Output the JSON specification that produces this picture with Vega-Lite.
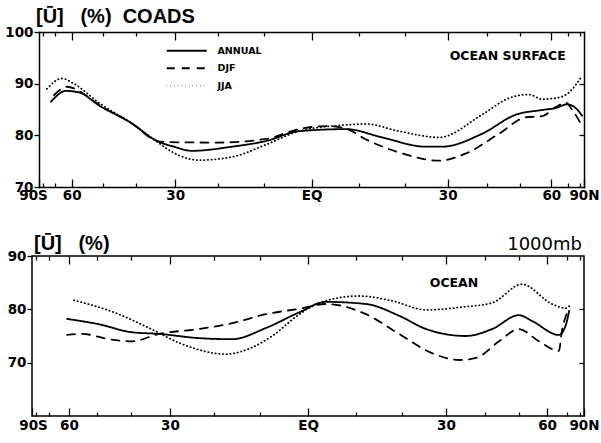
{
  "$schema": "https://vega.github.io/schema/vega-lite/v6.json",
  "padding": {"left": 4, "top": 7, "right": 0, "bottom": 4},
  "background": "white",
  "datasets": {
    "top": [
      {"season": "ANNUAL", "mu": -0.956, "u": 86.5},
      {"season": "ANNUAL", "mu": -0.901, "u": 88.6},
      {"season": "ANNUAL", "mu": -0.853, "u": 88.3},
      {"season": "ANNUAL", "mu": -0.78, "u": 85.8},
      {"season": "ANNUAL", "mu": -0.659, "u": 82.3},
      {"season": "ANNUAL", "mu": -0.571, "u": 79.0},
      {"season": "ANNUAL", "mu": -0.505, "u": 77.8},
      {"season": "ANNUAL", "mu": -0.439, "u": 77.0},
      {"season": "ANNUAL", "mu": -0.292, "u": 77.8},
      {"season": "ANNUAL", "mu": -0.167, "u": 78.9},
      {"season": "ANNUAL", "mu": -0.046, "u": 80.8},
      {"season": "ANNUAL", "mu": 0.127, "u": 81.2},
      {"season": "ANNUAL", "mu": 0.259, "u": 79.6},
      {"season": "ANNUAL", "mu": 0.42, "u": 77.8},
      {"season": "ANNUAL", "mu": 0.479, "u": 77.8},
      {"season": "ANNUAL", "mu": 0.626, "u": 80.3},
      {"season": "ANNUAL", "mu": 0.75, "u": 84.0},
      {"season": "ANNUAL", "mu": 0.846, "u": 84.9},
      {"season": "ANNUAL", "mu": 0.897, "u": 85.3},
      {"season": "ANNUAL", "mu": 0.938, "u": 86.0},
      {"season": "ANNUAL", "mu": 0.971, "u": 85.2},
      {"season": "ANNUAL", "mu": 0.993, "u": 83.8},
      {"season": "DJF", "mu": -0.945, "u": 87.8},
      {"season": "DJF", "mu": -0.897, "u": 89.4},
      {"season": "DJF", "mu": -0.835, "u": 88.0},
      {"season": "DJF", "mu": -0.78, "u": 85.9},
      {"season": "DJF", "mu": -0.659, "u": 82.3},
      {"season": "DJF", "mu": -0.571, "u": 79.0},
      {"season": "DJF", "mu": -0.534, "u": 78.7},
      {"season": "DJF", "mu": -0.35, "u": 78.6},
      {"season": "DJF", "mu": -0.167, "u": 79.3},
      {"season": "DJF", "mu": -0.046, "u": 81.2},
      {"season": "DJF", "mu": 0.053, "u": 81.8},
      {"season": "DJF", "mu": 0.127, "u": 81.3},
      {"season": "DJF", "mu": 0.2, "u": 79.2},
      {"season": "DJF", "mu": 0.321, "u": 76.7},
      {"season": "DJF", "mu": 0.468, "u": 75.1},
      {"season": "DJF", "mu": 0.567, "u": 76.5},
      {"season": "DJF", "mu": 0.688, "u": 80.3},
      {"season": "DJF", "mu": 0.787, "u": 83.5},
      {"season": "DJF", "mu": 0.846, "u": 83.7},
      {"season": "DJF", "mu": 0.897, "u": 85.5},
      {"season": "DJF", "mu": 0.934, "u": 86.3},
      {"season": "DJF", "mu": 0.956, "u": 85.0},
      {"season": "DJF", "mu": 0.993, "u": 81.8},
      {"season": "JJA", "mu": -0.971, "u": 89.0},
      {"season": "JJA", "mu": -0.916, "u": 91.0},
      {"season": "JJA", "mu": -0.872, "u": 90.0},
      {"season": "JJA", "mu": -0.78, "u": 86.3},
      {"season": "JJA", "mu": -0.659, "u": 82.3},
      {"season": "JJA", "mu": -0.56, "u": 78.5},
      {"season": "JJA", "mu": -0.512, "u": 76.8},
      {"season": "JJA", "mu": -0.413, "u": 75.2},
      {"season": "JJA", "mu": -0.292, "u": 75.8},
      {"season": "JJA", "mu": -0.167, "u": 78.2},
      {"season": "JJA", "mu": -0.046, "u": 80.8},
      {"season": "JJA", "mu": 0.127, "u": 82.0},
      {"season": "JJA", "mu": 0.2, "u": 82.2},
      {"season": "JJA", "mu": 0.321, "u": 80.8},
      {"season": "JJA", "mu": 0.468, "u": 79.6},
      {"season": "JJA", "mu": 0.626, "u": 84.0},
      {"season": "JJA", "mu": 0.725, "u": 87.2},
      {"season": "JJA", "mu": 0.798, "u": 87.9},
      {"season": "JJA", "mu": 0.846, "u": 87.0},
      {"season": "JJA", "mu": 0.897, "u": 87.2},
      {"season": "JJA", "mu": 0.945, "u": 88.3},
      {"season": "JJA", "mu": 0.993, "u": 91.5}
    ],
    "bottom": [
      {"season": "ANNUAL", "mu": -0.873, "u": 78.2},
      {"season": "ANNUAL", "mu": -0.757, "u": 77.2},
      {"season": "ANNUAL", "mu": -0.638, "u": 75.7},
      {"season": "ANNUAL", "mu": -0.54, "u": 75.4},
      {"season": "ANNUAL", "mu": -0.395, "u": 74.6},
      {"season": "ANNUAL", "mu": -0.275, "u": 74.4},
      {"season": "ANNUAL", "mu": -0.152, "u": 76.5},
      {"season": "ANNUAL", "mu": -0.033, "u": 79.4},
      {"season": "ANNUAL", "mu": 0.065, "u": 81.4},
      {"season": "ANNUAL", "mu": 0.21, "u": 81.0},
      {"season": "ANNUAL", "mu": 0.33, "u": 78.8},
      {"season": "ANNUAL", "mu": 0.428, "u": 76.3},
      {"season": "ANNUAL", "mu": 0.572, "u": 75.0},
      {"season": "ANNUAL", "mu": 0.667, "u": 76.3},
      {"season": "ANNUAL", "mu": 0.764, "u": 78.9},
      {"season": "ANNUAL", "mu": 0.812, "u": 77.8},
      {"season": "ANNUAL", "mu": 0.909, "u": 75.2},
      {"season": "ANNUAL", "mu": 0.935, "u": 77.2},
      {"season": "ANNUAL", "mu": 0.946, "u": 79.7},
      {"season": "DJF", "mu": -0.873, "u": 75.2},
      {"season": "DJF", "mu": -0.819, "u": 75.4},
      {"season": "DJF", "mu": -0.721, "u": 74.4},
      {"season": "DJF", "mu": -0.638, "u": 74.0},
      {"season": "DJF", "mu": -0.54, "u": 75.4},
      {"season": "DJF", "mu": -0.395, "u": 76.3},
      {"season": "DJF", "mu": -0.275, "u": 77.4},
      {"season": "DJF", "mu": -0.152, "u": 79.1},
      {"season": "DJF", "mu": -0.033, "u": 80.1},
      {"season": "DJF", "mu": 0.065, "u": 81.0},
      {"season": "DJF", "mu": 0.21, "u": 79.1},
      {"season": "DJF", "mu": 0.33, "u": 75.4},
      {"season": "DJF", "mu": 0.449, "u": 71.8},
      {"season": "DJF", "mu": 0.547, "u": 70.5},
      {"season": "DJF", "mu": 0.609, "u": 70.9},
      {"season": "DJF", "mu": 0.692, "u": 74.0},
      {"season": "DJF", "mu": 0.764, "u": 76.3},
      {"season": "DJF", "mu": 0.837, "u": 74.0},
      {"season": "DJF", "mu": 0.909, "u": 72.2},
      {"season": "DJF", "mu": 0.92, "u": 75.9},
      {"season": "DJF", "mu": 0.938, "u": 79.3},
      {"season": "JJA", "mu": -0.848, "u": 81.7},
      {"season": "JJA", "mu": -0.696, "u": 79.3},
      {"season": "JJA", "mu": -0.576, "u": 76.5},
      {"season": "JJA", "mu": -0.457, "u": 73.5},
      {"season": "JJA", "mu": -0.297, "u": 71.6},
      {"season": "JJA", "mu": -0.214, "u": 72.6},
      {"season": "JJA", "mu": -0.13, "u": 75.0},
      {"season": "JJA", "mu": -0.033, "u": 79.0},
      {"season": "JJA", "mu": 0.04, "u": 81.2},
      {"season": "JJA", "mu": 0.185, "u": 82.5},
      {"season": "JJA", "mu": 0.304, "u": 81.6},
      {"season": "JJA", "mu": 0.428, "u": 79.9},
      {"season": "JJA", "mu": 0.572, "u": 80.5},
      {"season": "JJA", "mu": 0.667, "u": 81.2},
      {"season": "JJA", "mu": 0.775, "u": 84.7},
      {"season": "JJA", "mu": 0.884, "u": 81.0},
      {"season": "JJA", "mu": 0.935, "u": 80.2},
      {"season": "JJA", "mu": 0.946, "u": 80.6}
    ]
  },
  "config": {
    "view": {"stroke": "black", "strokeWidth": 1.5},
    "axis": {
      "domain": false, "grid": false,
      "labelFont": "DejaVu Sans", "labelFontWeight": "bold", "labelFontSize": 13.5, "labelColor": "black",
      "tickColor": "black", "tickWidth": 1.3, "title": null,
      "domainColor": "black", "domainWidth": 1.5, "domainCap": "square"
    },
    "title": {"font": "Liberation Sans", "fontWeight": "bold", "color": "black", "anchor": "start"},
    "text": {"font": "Liberation Sans", "color": "black"}
  },
  "columns": 1,
  "spacing": 27,
  "resolve": {"scale": {"strokeDash": "independent", "strokeWidth": "independent"}, "legend": {"strokeDash": "independent"}},
  "concat": [
    {
      "width": 552, "height": 155,
      "view": {"stroke": null},
      "title": {"text": "[Ū]\u00a0\u00a0\u00a0(%)\u00a0\u00a0COADS", "fontSize": 20, "offset": -2, "dx": 4, "frame": "group"},
      "layer": [
        {
          "data": {"name": "top"},
          "mark": {"type": "line", "interpolate": "monotone", "color": "black", "strokeCap": "round"},
          "encoding": {
            "x": {"field": "mu", "type": "quantitative",
              "scale": {"domain": [-1, 1], "nice": false, "zero": false, "range": [7, 552]},
              "axis": {"orient": "bottom", "domain": true,
                "values": [-1, -0.985, -0.94, -0.88, -0.766, -0.643, -0.5, -0.342, -0.174, 0, 0.174, 0.342, 0.5, 0.643, 0.766, 0.88, 0.94, 0.985, 1],
                "labelExpr": "datum.value == -1 ? '90S' : datum.value == -0.88 ? '60' : datum.value == -0.5 ? '30' : datum.value == 0 ? 'EQ' : datum.value == 0.5 ? '30' : datum.value == 0.88 ? '60' : datum.value == 1 ? '90N' : ''",
                "tickSize": {"condition": {"test": "abs(datum.value) == 0.5 || abs(datum.value) == 0.88 || abs(datum.value) == 1 || datum.value == 0", "value": -8}, "value": -4},
                "labelPadding": 9,
                "labelOffset": {"condition": {"test": "datum.value == -1", "value": -6}, "value": 0},
                "labelFlush": false, "labelOverlap": false, "labelBound": false}},
            "y": {"field": "u", "type": "quantitative",
              "scale": {"domain": [70, 100], "nice": false, "zero": false},
              "axis": {"orient": "left", "domain": true, "offset": -7, "values": [70, 80, 90, 100], "tickSize": 5, "labelPadding": 1, "labelFlush": false}},
            "strokeDash": {"field": "season", "type": "nominal",
              "scale": {"domain": ["ANNUAL", "DJF", "JJA"], "range": [[1, 0], [8, 7], [0.3, 3.4]]},
              "legend": {"orient": "none", "legendX": 150, "legendY": 14, "title": null,
                "symbolType": "M-20,0L20,0", "symbolSize": 4, "symbolStrokeColor": "black", "symbolStrokeWidth": 1.9,
                "labelFont": "DejaVu Sans", "labelFontWeight": "bold", "labelFontSize": 9.5, "labelColor": "black",
                "rowPadding": 6.5, "labelOffset": 26}},
            "strokeWidth": {"field": "season", "type": "ordinal",
              "scale": {"domain": ["ANNUAL", "DJF", "JJA"], "range": [1.8, 1.8, 2.4]}, "legend": null}
          }
        },
        {
          "data": {"values": [{"mu": 0.72, "u": 95.4, "label": "OCEAN SURFACE"}]},
          "mark": {"type": "text", "font": "DejaVu Sans", "fontSize": 12.5, "fontWeight": "bold", "align": "center", "baseline": "middle"},
          "encoding": {
            "x": {"field": "mu", "type": "quantitative",
              "axis": {"orient": "top", "labels": false, "domain": true,
                "values": [-0.985, -0.94, -0.88, -0.766, -0.643, -0.5, -0.342, -0.174, 0, 0.174, 0.342, 0.5, 0.643, 0.766, 0.88, 0.94, 0.985],
                "tickSize": {"condition": {"test": "abs(datum.value) == 0.5 || abs(datum.value) == 0.88 || datum.value == 0", "value": -8}, "value": -4}}},
            "y": {"field": "u", "type": "quantitative",
              "axis": {"orient": "right", "labels": false, "domain": true, "values": [80, 90], "tickSize": -5}},
            "text": {"field": "label"}
          }
        }
      ],
      "resolve": {"axis": {"x": "independent", "y": "independent"}}
    },
    {
      "width": 552, "height": 160,
      "layer": [
        {
          "data": {"name": "bottom"},
          "mark": {"type": "line", "interpolate": "monotone", "color": "black", "strokeCap": "round"},
          "encoding": {
            "x": {"field": "mu", "type": "quantitative",
              "scale": {"domain": [-1, 1], "nice": false, "zero": false},
              "axis": {"orient": "bottom",
                "values": [-1, -0.985, -0.94, -0.866, -0.766, -0.643, -0.5, -0.342, -0.174, 0, 0.174, 0.342, 0.5, 0.643, 0.766, 0.866, 0.94, 0.985, 1],
                "labelExpr": "datum.value == -1 ? '90S' : datum.value == -0.866 ? '60' : datum.value == -0.5 ? '30' : datum.value == 0 ? 'EQ' : datum.value == 0.5 ? '30' : datum.value == 0.866 ? '60' : datum.value == 1 ? '90N' : ''",
                "tickSize": {"condition": {"test": "abs(datum.value) == 0.5 || abs(datum.value) == 0.866 || abs(datum.value) == 1 || datum.value == 0", "value": -8}, "value": -4},
                "labelPadding": 10,
                "labelOffset": {"condition": {"test": "datum.value == -1", "value": 1}, "value": 0},
                "labelFlush": false, "labelOverlap": false, "labelBound": false}},
            "y": {"field": "u", "type": "quantitative",
              "scale": {"domain": [60, 90], "nice": false, "zero": false},
              "axis": {"orient": "left", "values": [70, 80, 90], "tickSize": 5, "labelPadding": 1, "labelFlush": false}},
            "strokeDash": {"field": "season", "type": "nominal",
              "scale": {"domain": ["ANNUAL", "DJF", "JJA"], "range": [[1, 0], [8, 7], [0.3, 3.4]]},
              "legend": null},
            "strokeWidth": {"field": "season", "type": "ordinal",
              "scale": {"domain": ["ANNUAL", "DJF", "JJA"], "range": [1.8, 1.8, 2.4]}, "legend": null}
          }
        },
        {
          "data": {"values": [{"mu": 0.529, "u": 84.9, "label": "OCEAN"}]},
          "mark": {"type": "text", "font": "DejaVu Sans", "fontSize": 12.5, "fontWeight": "bold", "align": "center", "baseline": "middle"},
          "encoding": {
            "x": {"field": "mu", "type": "quantitative",
              "axis": {"orient": "top", "labels": false,
                "values": [-0.985, -0.94, -0.866, -0.766, -0.643, -0.5, -0.342, -0.174, 0, 0.174, 0.342, 0.5, 0.643, 0.766, 0.866, 0.94, 0.985],
                "tickSize": {"condition": {"test": "abs(datum.value) == 0.5 || abs(datum.value) == 0.866 || datum.value == 0", "value": -8}, "value": -4}}},
            "y": {"field": "u", "type": "quantitative",
              "axis": {"orient": "right", "labels": false, "values": [70, 80], "tickSize": -5}},
            "text": {"field": "label"}
          }
        },
        {
          "data": {"values": [{"mu": -1, "u": 91.1, "label": "[Ū]\u00a0\u00a0\u00a0(%)"}]},
          "mark": {"type": "text", "fontSize": 20, "fontWeight": "bold", "align": "left", "baseline": "alphabetic", "dx": 2},
          "encoding": {
            "x": {"field": "mu", "type": "quantitative", "axis": null},
            "y": {"field": "u", "type": "quantitative", "axis": null},
            "text": {"field": "label"}
          }
        },
        {
          "data": {"values": [{"mu": 1, "u": 91.1, "label": "1000mb"}]},
          "mark": {"type": "text", "font": "DejaVu Sans", "fontSize": 18, "fontWeight": "normal", "align": "right", "baseline": "alphabetic", "dx": -2},
          "encoding": {
            "x": {"field": "mu", "type": "quantitative", "axis": null},
            "y": {"field": "u", "type": "quantitative", "axis": null},
            "text": {"field": "label"}
          }
        }
      ],
      "resolve": {"axis": {"x": "independent", "y": "independent"}}
    }
  ]
}
